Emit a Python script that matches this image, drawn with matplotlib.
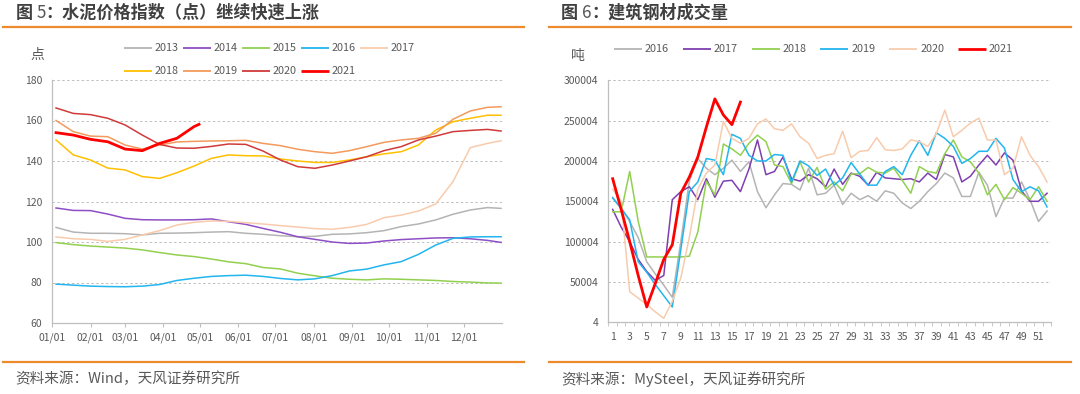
import matplotlib
matplotlib.use('Agg')
import matplotlib.pyplot as plt
from matplotlib.lines import Line2D
import numpy as np

plt.rcParams['font.family'] = ['Noto Sans CJK SC', 'DejaVu Sans']

W, H = 1080, 394

# ---------------- Left chart: cement price index (points) ----------------
cement_days = [3, 17, 31, 45, 59, 73, 87, 101, 115, 129, 143, 157, 171, 185,
               199, 213, 227, 241, 255, 269, 283, 297, 311, 325, 339, 353, 364]
cement_2013 = [107.2, 104.9, 104.3, 104.3, 104.1, 103.5, 104.3, 104.4, 104.6, 104.9, 105.1, 104.3, 103.8, 103.1,
               102.6, 102.8, 103.8, 104.0, 104.6, 105.6, 107.6, 108.9, 110.9, 113.7, 115.8, 117.0, 116.6]
cement_2014 = [116.8, 115.6, 115.5, 113.8, 111.7, 111.0, 110.9, 110.9, 111.0, 111.4, 110.0, 108.7, 106.7, 104.8,
               102.6, 101.3, 100.0, 99.3, 99.5, 100.5, 101.2, 101.6, 102.0, 102.1, 101.6, 100.8, 99.8]
cement_2015 = [99.7, 98.7, 98.0, 97.5, 97.0, 96.1, 94.8, 93.6, 92.8, 91.6, 90.2, 89.3, 87.4, 86.7,
               84.6, 83.3, 82.1, 81.6, 81.3, 81.8, 81.6, 81.3, 81.0, 80.5, 80.2, 79.8, 79.7]
cement_2016 = [79.2, 78.7, 78.2, 78.0, 77.9, 78.2, 79.0, 81.0, 82.1, 83.0, 83.4, 83.6, 83.0, 82.0,
               81.3, 81.8, 83.4, 85.7, 86.6, 88.7, 90.3, 93.9, 98.5, 101.8, 102.5, 102.6, 102.6]
cement_2017 = [102.5, 101.6, 101.3, 100.3, 101.3, 103.5, 105.6, 108.4, 109.7, 110.4, 110.2, 109.5, 108.9, 108.1,
               107.4, 106.6, 106.3, 107.2, 108.7, 112.0, 113.3, 115.3, 118.8, 129.8, 146.6, 148.7, 150.0]
cement_2018 = [150.4, 143.0, 140.5, 136.5, 135.6, 132.3, 131.4, 134.2, 137.5, 141.3, 143.0, 142.6, 142.5, 141.0,
               140.0, 139.3, 139.3, 140.5, 142.1, 143.5, 144.6, 147.9, 155.3, 159.4, 161.1, 162.6, 162.6]
cement_2019 = [160.0, 154.5, 152.3, 152.0, 147.9, 145.9, 147.9, 149.4, 149.7, 149.9, 150.0, 150.2, 148.7, 147.6,
               145.8, 144.6, 143.8, 145.1, 147.1, 149.2, 150.4, 151.2, 153.7, 160.6, 164.7, 166.5, 166.8]
cement_2020 = [166.2, 163.5, 162.9, 161.1, 157.8, 152.8, 148.2, 146.4, 146.3, 147.2, 148.4, 148.2, 144.9, 140.5,
               137.2, 136.4, 138.0, 140.0, 142.1, 145.1, 147.1, 150.4, 152.3, 154.5, 155.1, 155.6, 154.8]
cement_days_2021 = [3, 17, 31, 45, 59, 73, 87, 101, 115, 119]
cement_2021 = [154.0, 152.8, 150.7, 149.5, 145.9, 145.1, 148.7, 151.2, 157.0, 158.1]

cement_labels = ['2013', '2014', '2015', '2016', '2017', '2018', '2019', '2020', '2021']
cement_colors = ['#B4B4B4', '#8E4EC6', '#92D050', '#22B5EE', '#F8CBAD', '#FFC000', '#F39A5C', '#D03A3A', '#FF0000']
month_ticks = [0, 31, 59, 90, 120, 151, 181, 212, 243, 273, 304, 334]
month_labels = ['01/01', '02/01', '03/01', '04/01', '05/01', '06/01',
                '07/01', '08/01', '09/01', '10/01', '11/01', '12/01']
cement_yticks = [60, 80, 100, 120, 140, 160, 180]

# ---------------- Right chart: construction steel turnover (t) ----------------
weeks = list(range(1, 53))
steel_2016 = [155000, 142000, 125000, 105000, 75000, 60000, 46000, 31000, 100000, 175000, 203000, 191000, 183000,
              191000, 201000, 187000, 199000, 162000, 142000, 158000, 172000, 171000, 164000, 191000, 158000, 160000,
              170000, 146000, 160000, 152000, 157000, 150000, 163000, 160000, 148000, 141000, 150000, 162000, 172000,
              185000, 179000, 156000, 156000, 186000, 170000, 131000, 154000, 154000, 174000, 152000, 125000, 138000]
steel_2017 = [140000, 118000, 100000, 78000, 63000, 52000, 58000, 152000, 162000, 168000, 152000, 178000, 155000,
              175000, 176000, 162000, 190000, 226000, 183000, 187000, 205000, 178000, 175000, 183000, 178000, 168000,
              190000, 171000, 185000, 181000, 170000, 186000, 179000, 178000, 177000, 178000, 174000, 185000, 177000,
              208000, 205000, 174000, 181000, 195000, 207000, 195000, 210000, 201000, 163000, 150000, 150000, 160000]
steel_2018 = [137000, 137000, 187000, 125000, 81000, 81000, 81000, 81000, 81000, 82000, 112000, 175000, 158000,
              221000, 215000, 207000, 222000, 232000, 224000, 195000, 193000, 172000, 199000, 174000, 192000, 165000,
              174000, 163000, 184000, 184000, 192000, 186000, 185000, 191000, 176000, 160000, 193000, 187000, 185000,
              209000, 226000, 205000, 199000, 185000, 158000, 171000, 152000, 167000, 160000, 152000, 168000, 150000]
steel_2019 = [154000, 141000, 127000, 75000, 62000, 47000, 33000, 19000, 90000, 162000, 174000, 203000, 201000,
              183000, 233000, 228000, 207000, 200000, 200000, 208000, 207000, 174000, 200000, 194000, 182000, 190000,
              170000, 179000, 198000, 184000, 170000, 170000, 187000, 193000, 183000, 207000, 225000, 207000, 235000,
              228000, 218000, 197000, 203000, 212000, 212000, 228000, 216000, 177000, 162000, 168000, 163000, 143000]
steel_2020 = [165000, 150000, 38000, 30000, 22000, 13000, 5000, 26000, 55000, 105000, 165000, 185000, 195000,
              249000, 228000, 222000, 228000, 246000, 252000, 240000, 238000, 246000, 230000, 222000, 203000, 207000,
              209000, 237000, 204000, 212000, 213000, 229000, 214000, 213000, 215000, 226000, 224000, 218000, 234000,
              263000, 230000, 238000, 247000, 253000, 226000, 226000, 183000, 191000, 230000, 207000, 193000, 174000]
weeks_2021 = list(range(1, 17))
steel_2021 = [178000, 140000, 100000, 58000, 19000, 48000, 78000, 96000, 160000, 180000, 205000, 242000,
              277000, 257000, 245000, 273000]

steel_labels = ['2016', '2017', '2018', '2019', '2020', '2021']
steel_colors = ['#B4B4B4', '#7F3FB0', '#92D050', '#22B5EE', '#F8CBAD', '#FF0000']
steel_yticks = [4, 50004, 100004, 150004, 200004, 250004, 300004]
week_ticks = list(range(1, 53, 2))

ORANGE = '#EE8A2E'
GRID = '#BFBFBF'
TXT = '#595959'

fig = plt.figure(figsize=(W / 100, H / 100), dpi=100)
fig.patch.set_facecolor('white')
renderer = fig.canvas.get_renderer()


def fx(px):
    return px / W


def fy(py):
    return 1 - py / H


def axes_px(x0, y0, x1, y1):
    return fig.add_axes([fx(x0), fy(y1), (x1 - x0) / W, (y1 - y0) / H])


def style(ax):
    for s in ['top', 'right']:
        ax.spines[s].set_visible(False)
    for s in ['left', 'bottom']:
        ax.spines[s].set_color(GRID)
        ax.spines[s].set_linewidth(0.9)
    ax.tick_params(axis='y', length=0, labelsize=7.5, labelcolor=TXT, pad=7)
    ax.grid(axis='y', color=GRID, linestyle=(0, (2.5, 2.5)), linewidth=0.7)
    ax.set_axisbelow(True)
    ax.set_facecolor('white')


def hrule(x0, x1, y):
    fig.add_artist(Line2D([fx(x0), fx(x1)], [fy(y), fy(y)], color=ORANGE, lw=1.6,
                          transform=fig.transFigure))


def legend_entry(x, y, color, label, lw):
    fig.add_artist(Line2D([fx(x), fx(x + 28)], [fy(y), fy(y)], color=color, lw=lw,
                          transform=fig.transFigure, solid_capstyle='butt'))
    fig.text(fx(x + 31), fy(y), label, fontsize=7.8, color=TXT, va='center', ha='left')


def title_parts(x, y, parts):
    # parts: list of (text, weight, color); drawn left to right
    cur = x
    for txt, weight, col in parts:
        t = fig.text(fx(cur), fy(y), txt, fontsize=12.3, fontweight=weight,
                     color=col, va='center', ha='left')
        bb = t.get_window_extent(renderer=renderer)
        cur += bb.width


# ---- left panel ----
ax1 = axes_px(51.7, 80, 502.3, 323)
style(ax1)
cement_series = [cement_2013, cement_2014, cement_2015, cement_2016, cement_2017,
                 cement_2018, cement_2019, cement_2020]
for vals, col in zip(cement_series, cement_colors[:8]):
    ax1.plot(cement_days, vals, color=col, lw=1.1, solid_joinstyle='round')
ax1.plot(cement_days_2021, cement_2021, color=cement_colors[8], lw=2.0, solid_joinstyle='round')
ax1.set_xlim(-0.5, 365)
ax1.set_ylim(60, 180)
ax1.set_yticks(cement_yticks)
ax1.set_xticks(month_ticks)
ax1.set_xticklabels(month_labels)
ax1.tick_params(axis='x', length=3, color=GRID, labelsize=7.5, labelcolor=TXT, pad=3.5)

# ---- right panel ----
ax2 = axes_px(608.4, 80.3, 1051.3, 322.3)
style(ax2)
steel_series = [steel_2016, steel_2017, steel_2018, steel_2019, steel_2020]
for vals, col in zip(steel_series, steel_colors[:5]):
    ax2.plot(weeks, vals, color=col, lw=1.1, solid_joinstyle='round')
ax2.plot(weeks_2021, steel_2021, color=steel_colors[5], lw=2.0, solid_joinstyle='round')
ax2.set_xlim(0.5, 52.5)
ax2.set_ylim(4, 300004)
ax2.set_yticks(steel_yticks)
ax2.set_yticklabels([str(v) for v in steel_yticks])
ax2.set_xticks(week_ticks)
ax2.set_xticklabels([str(w) for w in week_ticks])
ax2.set_xticks(np.arange(0.5, 53, 1.0), minor=True)
ax2.tick_params(axis='x', which='major', length=0, labelsize=7.5, labelcolor=TXT, pad=7)
ax2.tick_params(axis='x', which='minor', length=3, color=GRID)

# ---- titles, rules, sources ----
title_parts(15.5, 12.5, [('图 ', 'bold', '#404040'), ('5', 'normal', '#555555'),
                         ('：水泥价格指数（点）继续快速上涨', 'bold', '#404040')])
title_parts(561, 12.5, [('图 ', 'bold', '#404040'), ('6', 'normal', '#555555'),
                        ('：建筑钢材成交量', 'bold', '#404040')])
hrule(3, 524, 27.3)
hrule(548.6, 1071, 27.3)
hrule(3, 524, 362)
hrule(548.6, 1071, 362)
fig.text(fx(15.5), fy(379), '资料来源：Wind，天风证券研究所', fontsize=10.5,
         color=TXT, va='center', ha='left')
fig.text(fx(561), fy(379), '资料来源：MySteel，天风证券研究所', fontsize=10.5,
         color=TXT, va='center', ha='left')

# unit labels
fig.text(fx(37.5), fy(54.5), '点', fontsize=10, color=TXT, va='center', ha='center')
fig.text(fx(578), fy(56), '吨', fontsize=10, color=TXT, va='center', ha='center')

# legends
for i, (lab, col) in enumerate(zip(cement_labels, cement_colors)):
    row, colidx = divmod(i, 5)
    legend_entry(124 + 59 * colidx, 48 + 22.5 * row, col, lab, 2.0 if lab == '2021' else 1.3)
for i, (lab, col) in enumerate(zip(steel_labels, steel_colors)):
    legend_entry(614 + 68.8 * i, 48.5, col, lab, 2.0 if lab == '2021' else 1.3)

fig.savefig('out.png', dpi=100, facecolor='white')
